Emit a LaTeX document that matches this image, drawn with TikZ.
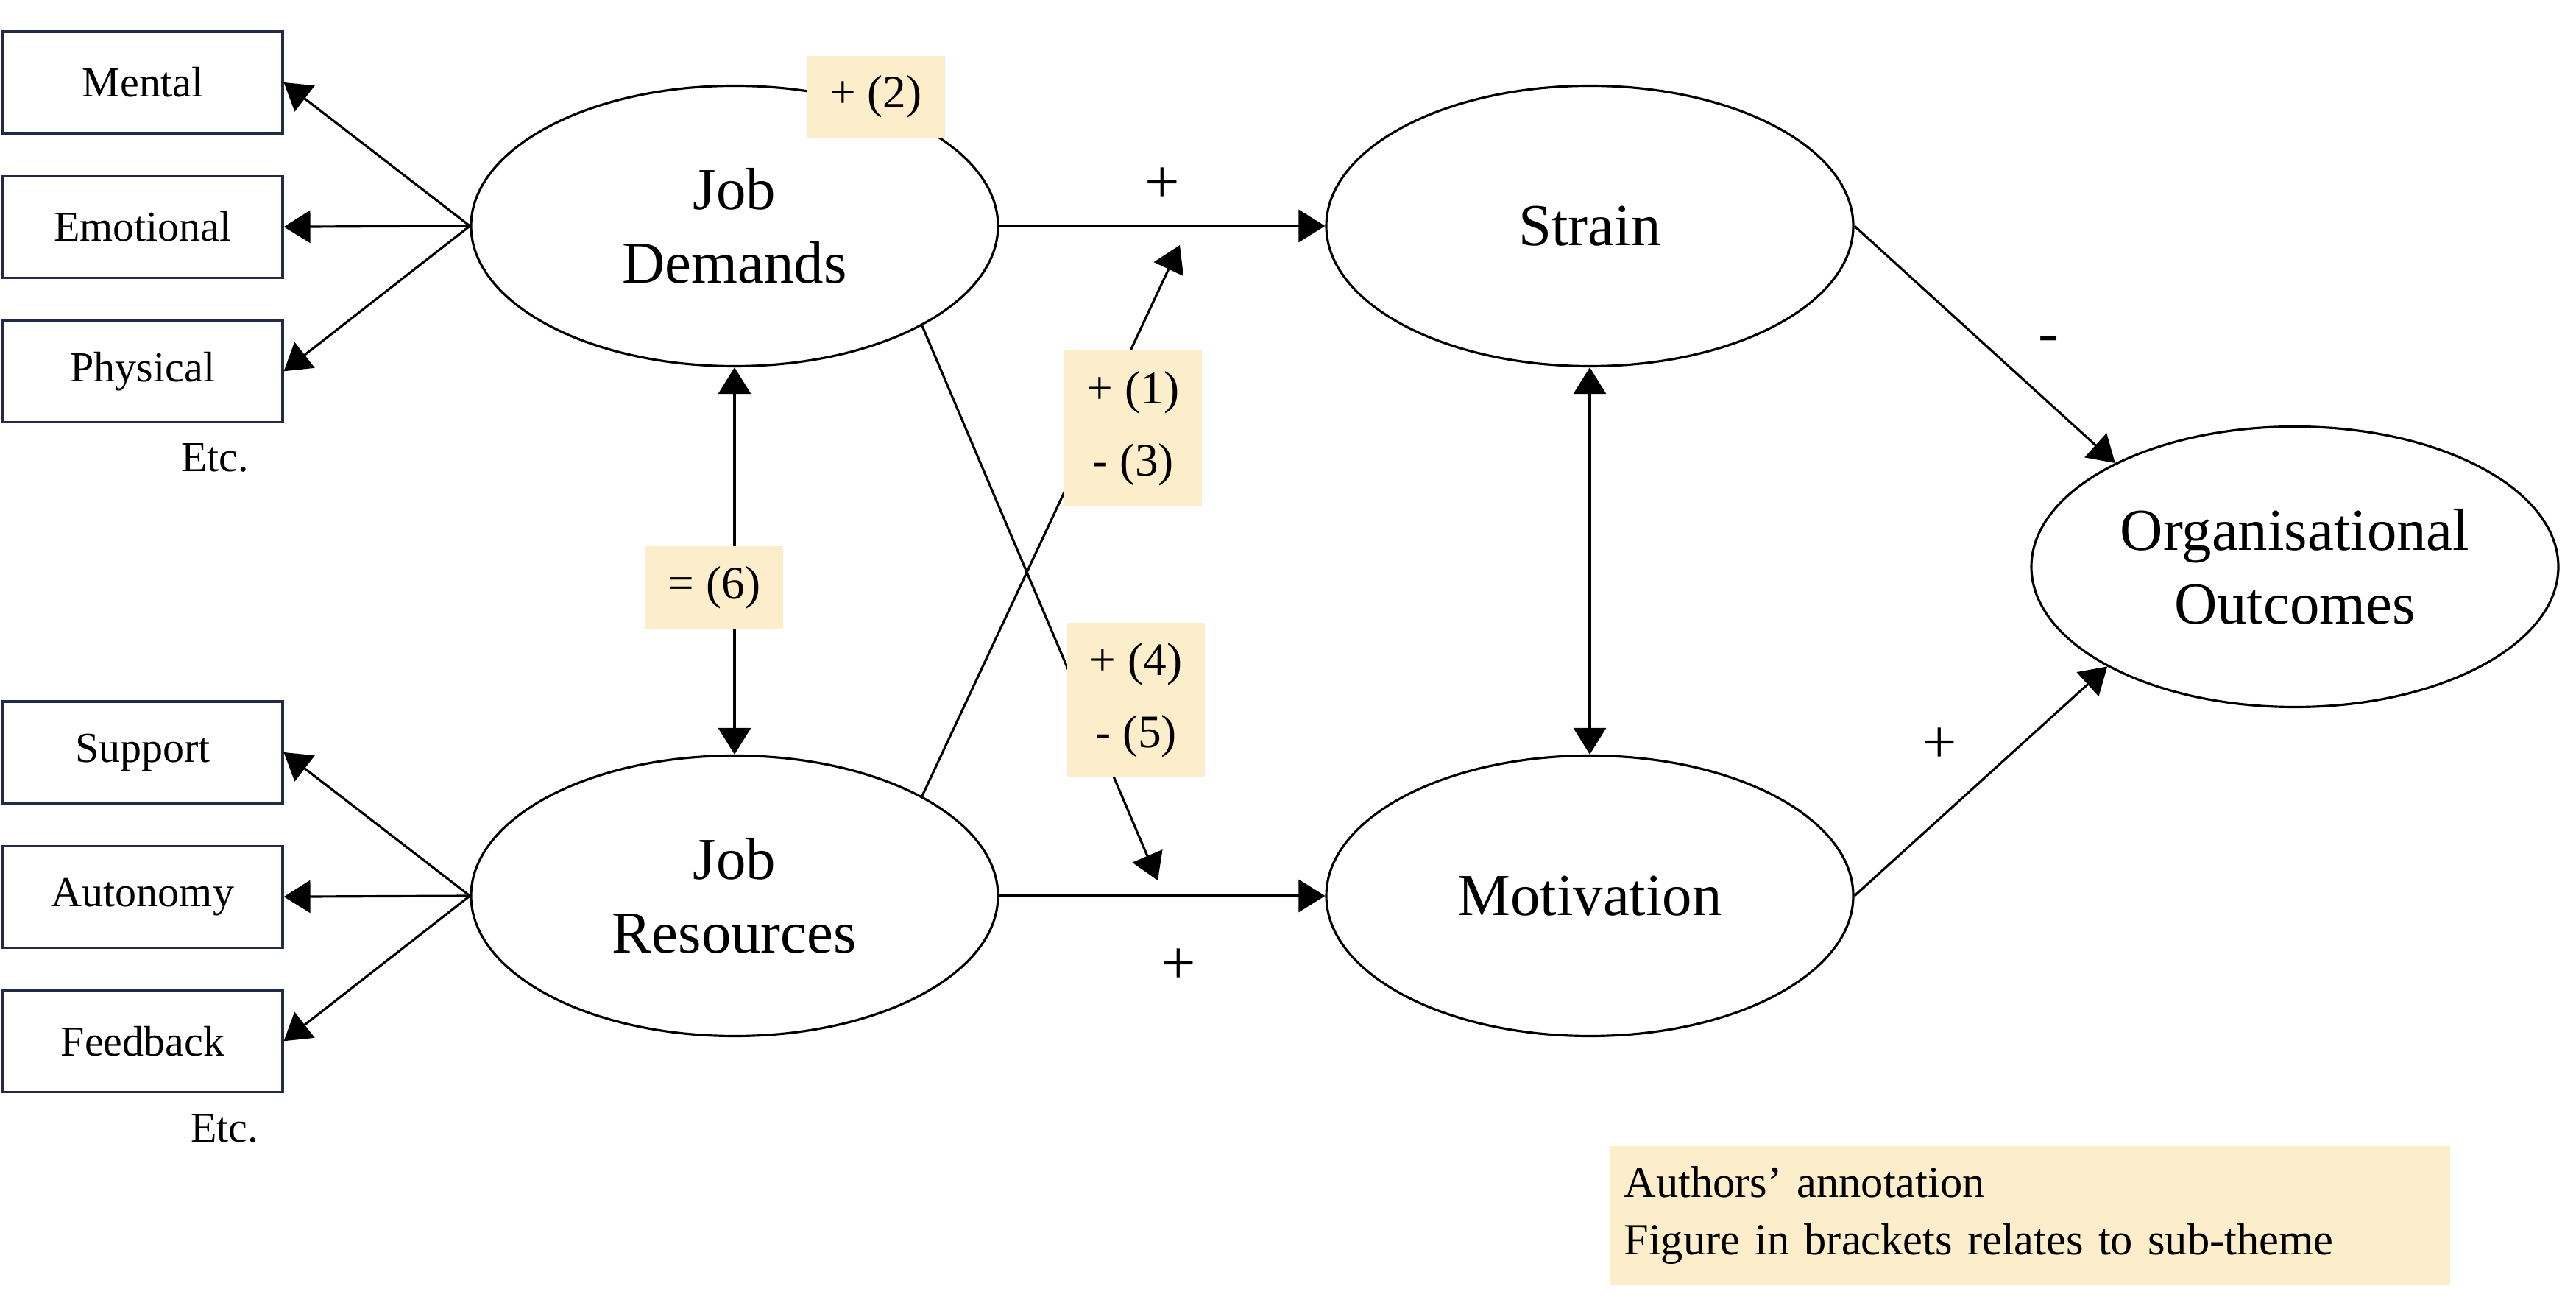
\documentclass[tikz,border=0pt]{standalone}
\usepackage{fontspec}
\setmainfont{Liberation Serif}
\usetikzlibrary{shapes.geometric,arrows.meta,positioning}
\definecolor{boxline}{RGB}{35,42,72}
\definecolor{annotfill}{RGB}{252,238,202}
\tikzset{factor/.style = {rectangle, draw=boxline, line width=0.9pt,
  minimum width=3.8cm, minimum height=1.38cm,
  font=\fontsize{16.5}{20}\selectfont}}
\tikzset{etcnote/.style = {font=\fontsize{16.5}{20}\selectfont}}
\tikzset{construct/.style = {ellipse, draw, line width=0.9pt,
  minimum width=7.16cm, minimum height=3.81cm, inner sep=0pt,
  align=center, font=\fontsize{23}{28.5}\selectfont}}
\tikzset{annot/.style = {rectangle, fill=annotfill, inner sep=0pt,
  minimum width=1.87cm, align=center,
  font=\fontsize{18}{28}\selectfont}}
\tikzset{keybox/.style = {rectangle, fill=annotfill,
  minimum width=11.42cm, minimum height=1.88cm, text width=11.02cm,
  inner xsep=0.2cm, align=left, font=\fontsize{17.2}{22.4}\selectfont}}
\tikzset{link/.style = {-{Triangle[length=0.36cm, width=0.44cm]}, line width=0.9pt}}
\tikzset{twoway/.style = {{Triangle[length=0.36cm, width=0.44cm]}-{Triangle[length=0.36cm, width=0.44cm]}, line width=0.9pt}}
\tikzset{sign/.style = {font=\fontsize{24}{24}\selectfont, inner sep=0pt}}

\begin{document}
\begin{tikzpicture}
  \useasboundingbox (0,0) rectangle (35,-17.85);
  % demand and resource factors
  \node[factor] (mental) at (1.94,-1.12) {Mental};
  \node[factor, below=0.55cm of mental] (emotional) {Emotional};
  \node[factor, below=0.55cm of emotional] (physical) {Physical};
  \node[etcnote] (etcd) at (2.92,-6.22) {Etc.};
  \node[factor] (support) at (1.94,-10.22) {Support};
  \node[factor, below=0.55cm of support] (autonomy) {Autonomy};
  \node[factor, below=0.55cm of autonomy] (feedback) {Feedback};
  \node[etcnote] (etcr) at (3.05,-15.33) {Etc.};
  % constructs
  \node[construct] (jd) at (9.98,-3.07) {Job\\Demands};
  \node[construct] (jr) at (9.98,-12.17) {Job\\Resources};
  \node[construct] (strain) at (21.6,-3.07) {Strain};
  \node[construct] (motiv) at (21.6,-12.17) {Motivation};
  \node[construct] (org) at (31.18,-7.7) {Organisational\\Outcomes};
  \coordinate (tipA) at (16.03,-3.33);
  \coordinate (tipB) at (15.73,-11.96);
  % paths
  \draw[link] (jd.west) -- (mental.east);
  \draw[link] (jd.west) -- (emotional.east);
  \draw[link] (jd.west) -- (physical.east);
  \draw[link] (jr.west) -- (support.east);
  \draw[link] (jr.west) -- (autonomy.east);
  \draw[link] (jr.west) -- (feedback.east);
  \draw[link] (jd.east) -- node[sign, yshift=0.55cm] (plusS) {+} (strain.west);
  \draw[link] (jr.east) -- node[sign, pos=0.55, yshift=-0.96cm] (plusM) {+} (motiv.west);
  \draw[twoway] (jd.south) -- (jr.north);
  \draw[twoway] (strain.south) -- (motiv.north);
  \draw[link] (jr.28) -- (tipA);
  \draw[link] (jd.-28) -- (tipB);
  \draw[link] (strain.east) -- node[sign, xshift=0.87cm] (minusO) {-} (org.150);
  \draw[link] (motiv.east) -- node[sign, xshift=-0.56cm, yshift=0.49cm] (plusO) {+} (org.208);
  % annotations
  \node[annot, minimum height=1.11cm] (a2) at (11.9,-1.315) {+ (2)};
  \node[annot, minimum height=2.12cm] (a13) at (15.395,-5.82) {+ (1)\\- (3)};
  \node[annot, minimum height=2.1cm] (a45) at (15.435,-9.51) {+ (4)\\- (5)};
  \node[annot, minimum height=1.13cm] (a6) at (9.705,-7.985) {= (6)};
  \node[keybox] (key) at (27.575,-16.51) {Authors’ annotation\\Figure in brackets relates to sub-theme};
\end{tikzpicture}
\end{document}
